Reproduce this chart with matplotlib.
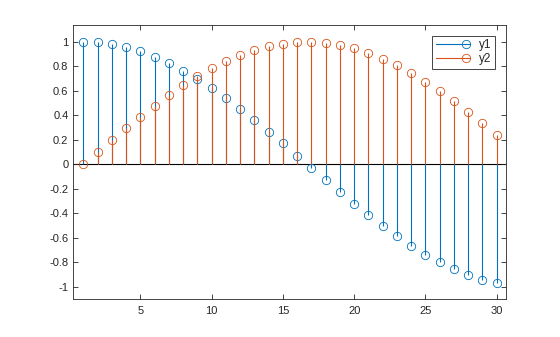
import numpy as np
import matplotlib
matplotlib.use("Agg")
import matplotlib.pyplot as plt
from matplotlib.lines import Line2D
from matplotlib.legend_handler import HandlerLine2D

plt.rcParams['font.family'] = ['Liberation Sans', 'DejaVu Sans']
plt.rcParams['axes.unicode_minus'] = False

x = list(range(1, 31))
y1 = [1.00, 0.995, 0.980, 0.955, 0.921, 0.878, 0.825, 0.765, 0.697, 0.622,
      0.540, 0.454, 0.362, 0.267, 0.170, 0.071, -0.029, -0.129, -0.227, -0.323,
      -0.416, -0.505, -0.589, -0.666, -0.737, -0.801, -0.857, -0.904, -0.942, -0.971]
y2 = [0.000, 0.100, 0.199, 0.296, 0.389, 0.479, 0.565, 0.644, 0.717, 0.783,
      0.841, 0.891, 0.932, 0.964, 0.985, 0.997, 1.000, 0.992, 0.974, 0.946,
      0.909, 0.863, 0.808, 0.746, 0.675, 0.598, 0.516, 0.427, 0.335, 0.239]
labels = ['y1', 'y2']
colors = ['#0072BD', '#D95319']
xticks = [5, 10, 15, 20, 25, 30]
yticks = [-1, -0.8, -0.6, -0.4, -0.2, 0, 0.2, 0.4, 0.6, 0.8, 1]
ytick_labels = ['-1', '-0.8', '-0.6', '-0.4', '-0.2', '0', '0.2', '0.4', '0.6', '0.8', '1']

fig = plt.figure(figsize=(5.6, 3.37), dpi=100)
ax = fig.add_axes([0.1309, 0.1128, 0.9036 - 0.1309, 0.9249 - 0.1128])

axc = '#262626'
ms = 6.0
mew = 0.6
for yy, c, lab in zip([y1, y2], colors, labels):
    ml, sl, bl = ax.stem(x, yy, basefmt=' ')
    plt.setp(sl, color=c, linewidth=0.8)
    plt.setp(ml, marker='o', markerfacecolor='none', markeredgecolor=c,
             markersize=ms, markeredgewidth=mew)
    bl.set_visible(False)

ax.axhline(0, color='black', linewidth=0.8, zorder=1)

ax.set_xlim(0.3, 30.65)
ax.set_ylim(-1.1, 1.134)
ax.set_xticks(xticks)
ax.set_yticks(yticks)
ax.set_yticklabels(ytick_labels)
ax.tick_params(direction='in', length=3.5, width=0.6, colors=axc, labelsize=8,
               top=True, right=True, labelcolor=axc)
ax.tick_params(axis='x', pad=5)
for s in ax.spines.values():
    s.set_color(axc)
    s.set_linewidth(0.6)


class StemHandler(HandlerLine2D):
    def create_artists(self, legend, orig_handle, xdescent, ydescent,
                       width, height, fontsize, trans):
        yc = (height - ydescent) / 2.0
        xs = [-xdescent, -xdescent + width]
        c = orig_handle.get_color()
        line = Line2D(xs, [yc, yc], color=c, linewidth=0.8)
        mk = Line2D([xs[1] - 3], [yc], marker='o', markerfacecolor='none',
                    markeredgecolor=c, markersize=ms, markeredgewidth=mew,
                    linestyle='none')
        line.set_transform(trans)
        mk.set_transform(trans)
        return [line, mk]


handles = [Line2D([], [], color=c) for c in colors]
leg = ax.legend(handles, labels, loc='upper right', fontsize=8.5,
                handler_map={Line2D: StemHandler()}, handlelength=2.9,
                borderaxespad=0.9, fancybox=False, framealpha=1,
                edgecolor=axc, handletextpad=0.8, borderpad=0.3,
                labelspacing=0.15)
leg.get_frame().set_linewidth(0.6)
for t in leg.get_texts():
    t.set_color(axc)

fig.savefig('out.png', dpi=100)
